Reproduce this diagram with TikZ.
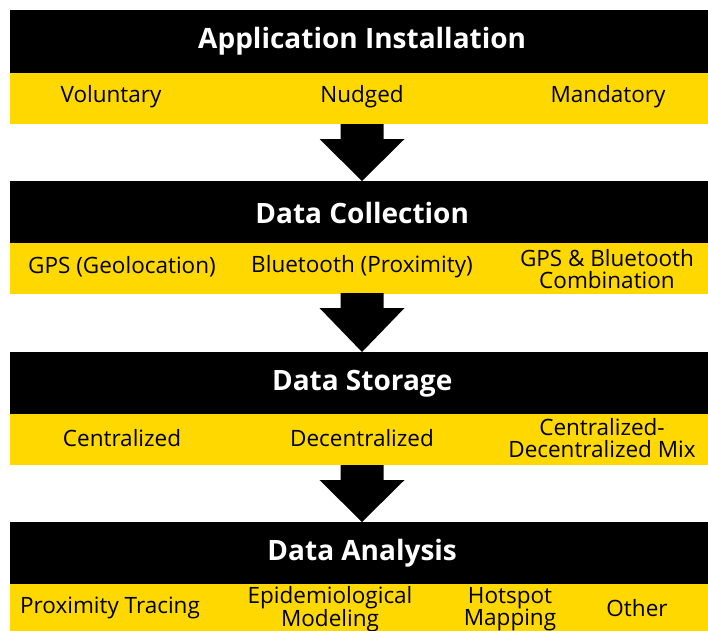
\documentclass[tikz,border=0pt]{standalone}
\usepackage{fontspec}
\setmainfont{Open Sans}
\usetikzlibrary{calc}
\definecolor{barblack}{HTML}{000000}
\definecolor{baryellow}{HTML}{FFD800}
\tikzset{
  headbar/.style={fill=barblack, text=white, inner sep=0pt, minimum width=704pt, minimum height=63pt, anchor=north west, font=\fontsize{28}{32}\selectfont\bfseries},
  itembar/.style={fill=baryellow, inner sep=0pt, minimum width=704pt, minimum height=51pt, anchor=north west},
  itemtext/.style={text=black, inner sep=0pt, align=center, font=\fontsize{22.5}{22}\selectfont},
  bigarrow/.style={fill=barblack}
}
\newcommand{\BigDownArrow}[2]{%
  \fill[bigarrow] ($(#1)+(-21.5,0)$) -- ($(#1)+(21.5,0)$) -- ($(#1)+(21.5,15)$) -- ($(#1)+(42.5,15)$) -- (#2) -- ($(#1)+(-42.5,15)$) -- ($(#1)+(-21.5,15)$) -- cycle;}
\begin{document}
\begin{tikzpicture}[x=1pt,y=-1pt]
\useasboundingbox (0,0) rectangle (708,630);
\clip (0,0) rectangle (708,630);
% stage 1
\node[headbar] (h1) at (10,10) {Application Installation};
\node[itembar] (y1) at (10,73) {};
\node[itemtext] (t11) at (111,97) {Voluntary};
\node[itemtext] (t12) at (362,97) {Nudged};
\node[itemtext] (t13) at (608,97) {Mandatory};
% stage 2
\node[headbar] (h2) at (10,181) {Data Collection};
\node[itembar] (y2) at (10,243) {};
\node[itemtext] (t21) at (122,267) {GPS (Geolocation)};
\node[itemtext] (t22) at (362,267) {Bluetooth (Proximity)};
\node[itemtext] (t23) at (607,269) {GPS \& Bluetooth\\Combination};
% stage 3
\node[headbar] (h3) at (10,352) {Data Storage};
\node[itembar] (y3) at (10,414) {};
\node[itemtext] (t31) at (122,438) {Centralized};
\node[itemtext] (t32) at (362,438) {Decentralized};
\node[itemtext] (t33) at (602,438) {Centralized-\\Decentralized Mix};
% stage 4
\node[headbar] (h4) at (10,522) {Data Analysis};
\node[itembar, minimum height=55pt] (y4) at (10,584) {};
\node[itemtext] (t41) at (110,608) {Proximity Tracing};
\node[itemtext] (t42) at (330,609) {Epidemiological\\Modeling};
\node[itemtext] (t43) at (510,609) {Hotspot\\Mapping};
\node[itemtext] (t44) at (637,608) {Other};
% arrows
\coordinate (a1s) at (362,124); \coordinate (a1e) at (362,181);
\coordinate (a2s) at (362,293); \coordinate (a2e) at (362,352);
\coordinate (a3s) at (362,465); \coordinate (a3e) at (362,522);
\BigDownArrow{a1s}{a1e}
\BigDownArrow{a2s}{a2e}
\BigDownArrow{a3s}{a3e}
\end{tikzpicture}
\end{document}
